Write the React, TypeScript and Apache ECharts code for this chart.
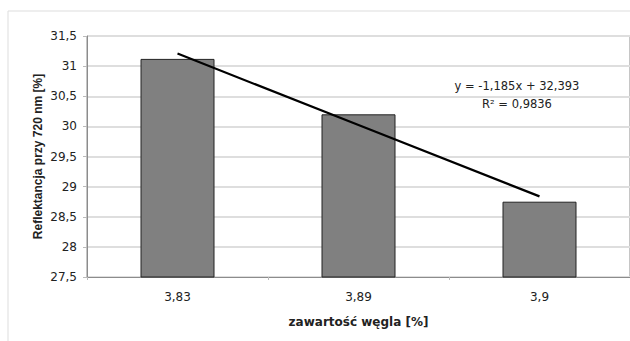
import React, { useEffect, useRef } from "react";
import * as echarts from "echarts";

const categories = ["3,83", "3,89", "3,9"];
const reflectance = [31.12, 30.2, 28.75];
const trendSlope = -1.185;
const trendIntercept = 32.393;
const rSquared = "0,9836";
const yMin = 27.5;
const yMax = 31.5;
const yInterval = 0.5;

const FONT = "'DejaVu Sans', sans-serif";
const FONT_V = "'Liberation Sans', Arial, sans-serif";
const fmt = (v: number) => String(v).replace(".", ",");

export default function App() {
  const ref = useRef<HTMLDivElement>(null);
  useEffect(() => {
    if (!ref.current) return;
    const chart = echarts.init(ref.current, null, { renderer: "svg" });
    const trend = categories.map((_, i) => +(trendSlope * (i + 1) + trendIntercept).toFixed(3));
    chart.setOption({
      animation: false,
      backgroundColor: "#ffffff",
      textStyle: { fontFamily: FONT },
      grid: {
        left: 87,
        top: 36,
        right: -2,
        bottom: 64,
        show: true,
        borderColor: "#8c8c8c",
        borderWidth: 1,
      },
      xAxis: {
        type: "category",
        data: categories,
        boundaryGap: true,
        name: "zawartość węgla [%]",
        nameLocation: "middle",
        nameGap: 39,
        nameMoveOverlap: false,
        nameTextStyle: { fontFamily: FONT, fontSize: 12, fontWeight: "bold", color: "#222" },
        axisLine: { lineStyle: { color: "#8c8c8c", width: 1 } },
        axisTick: { show: true, length: 3, lineStyle: { color: "#bbb" } },
        axisLabel: { fontFamily: FONT, fontSize: 12, color: "#222", margin: 14 },
      },
      yAxis: {
        type: "value",
        min: yMin,
        max: yMax,
        interval: yInterval,
        name: "Reflektancja przy 720 nm [%]",
        nameLocation: "middle",
        nameGap: 43,
        nameMoveOverlap: false,
        nameTextStyle: { fontFamily: FONT_V, fontSize: 12, fontWeight: "bold", color: "#222" },
        axisLine: { show: true, lineStyle: { color: "#8c8c8c", width: 1 } },
        axisTick: { show: true, length: 4, lineStyle: { color: "#bbb" } },
        axisLabel: { fontFamily: FONT, fontSize: 12, color: "#222", margin: 10, formatter: (v: number) => fmt(v) },
        splitLine: { show: true, lineStyle: { color: "#dedede", width: 2 } },
      },
      series: [
        {
          type: "bar",
          data: reflectance,
          barWidth: 74,
          itemStyle: { color: "#808080", borderColor: "#222", borderWidth: 1 },
        },
        {
          type: "line",
          data: trend,
          symbol: "none",
          lineStyle: { color: "#000", width: 2.2 },
          z: 5,
        },
      ],
      graphic: [
        {
          type: "rect",
          shape: { x: 8, y: 11, width: 700, height: 400 },
          style: { fill: "none", stroke: "#dddddd", lineWidth: 1 },
          silent: true,
        },
        {
          type: "text",
          x: 517,
          y: 86,
          style: {
            text: `y = ${fmt(trendSlope)}x + ${fmt(trendIntercept)}`,
            fontFamily: FONT,
            fontSize: 11.5,
            fill: "#222",
            textAlign: "center",
            textVerticalAlign: "middle",
          },
        },
        {
          type: "text",
          x: 517,
          y: 104,
          style: {
            text: `R² = ${rSquared}`,
            fontFamily: FONT,
            fontSize: 11.5,
            fill: "#222",
            textAlign: "center",
            textVerticalAlign: "middle",
          },
        },
      ],
    });
    return () => chart.dispose();
  }, []);
  return (
    <div
      ref={ref}
      style={{ position: "fixed", left: 0, top: 0, width: 630, height: 341 }}
    />
  );
}
